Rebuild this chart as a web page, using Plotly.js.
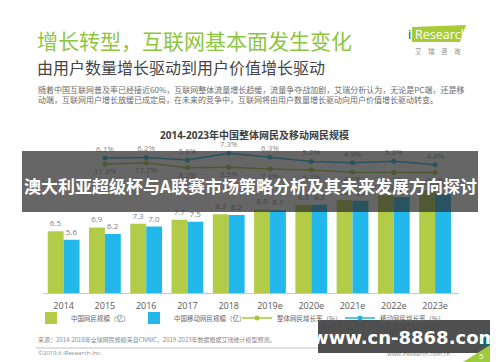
<!DOCTYPE html>
<html>
<head>
<meta charset="utf-8">
<script src="https://cdn.plot.ly/plotly-3.0.1.min.js"></script>
<style>
html,body{margin:0;padding:0;background:#fff;}
#chart{width:500px;height:362px;}
</style>
</head>
<body>
<div id="chart"></div>
<script>
// ---- data ----
var years = ['2014','2015','2016','2017','2018','2019e','2020e','2021e','2022e','2023e'];
var rateYears = ['2015','2016','2017','2018','2019e','2020e','2021e','2022e','2023e'];
var netUsers = [6.5, 6.9, 7.3, 7.7, 8.3, 8.8, 9.3, 9.8, 10.3, 10.8];
var mobileUsers = [5.6, 6.2, 7.0, 7.5, 8.2, 8.7, 9.3, 9.7, 10.1, 10.5];
var rateUpper = [6.1, 6.2, 5.6, 7.3, 6.3, 5.2, 4.9, 5.3, 4.4];
var rateLower = [11.3, 12.2, 8.2, 8.5, 7.1, 6.3, 4.5, 4.3, 4.2];
var seriesNames = ['中国网民规模（亿）', '中国移动网民规模（亿）', '整体网民增长率（%）', '移动网民增长率（%）'];

// ---- pixel -> paper helpers (plot area 43..459 x 122..293) ----
var L = 43, R = 459, T = 122, B = 293;
function px(x){ return (x - L) / (R - L); }
function py(y){ return (B - y) / (B - T); }

var FONT = 'Open Sans, Noto Sans CJK SC, sans-serif';
var CJK = 'Noto Sans CJK SC, sans-serif';
var GREEN = '#b3cc48';
var BLUE = '#22b8ec';

var traces = [
  {type:'bar', x:years, y:netUsers, name:seriesNames[0], marker:{color:GREEN},
   text:netUsers.map(function(v){return v.toFixed(1);}), textposition:'outside',
   textfont:{size:8, color:'#808080'}, cliponaxis:false},
  {type:'bar', x:years, y:mobileUsers, name:seriesNames[1], marker:{color:BLUE},
   text:mobileUsers.map(function(v){return v.toFixed(1);}), textposition:'outside',
   textfont:{size:8, color:'#808080'}, cliponaxis:false},
  {type:'scatter', mode:'lines+markers+text', x:rateYears, y:rateLower, yaxis:'y3',
   name:seriesNames[2], line:{color:'#a4c63c', width:1.5}, marker:{color:'#a4c63c', size:5},
   text:rateLower.map(function(v){return v.toFixed(1)+'%';}), textposition:'bottom center',
   textfont:{size:8, color:'#8a8a8a'}, cliponaxis:false},
  {type:'scatter', mode:'lines+markers+text', x:rateYears, y:rateUpper, yaxis:'y2',
   name:seriesNames[3], line:{color:'#1fb6d6', width:1.5}, marker:{color:'#1fb6d6', size:5},
   text:rateUpper.map(function(v){return v.toFixed(1)+'%';}), textposition:'top center',
   textfont:{size:8, color:'#8a8a8a'}, cliponaxis:false}
];

function rect(x0,y0,x1,y1,fill){
  return {type:'rect', xref:'paper', yref:'paper', x0:px(x0), x1:px(x1), y0:py(y1), y1:py(y0),
          fillcolor:fill, line:{width:0}, layer:'above'};
}
function poly(pts, fill){
  var d = pts.map(function(p,i){ return (i?'L':'M') + px(p[0]) + ',' + py(p[1]); }).join(' ') + ' Z';
  return {type:'path', xref:'paper', yref:'paper', path:d, fillcolor:fill, line:{width:0}, layer:'above'};
}
function ann(text, x, y, opt){
  opt = opt || {};
  return {text:text, xref:'paper', yref:'paper', x:px(x), y:py(y), showarrow:false,
          xanchor:opt.xa || 'left', yanchor:'middle',
          font:{family:opt.family || CJK, size:opt.size || 8, color:opt.color || '#666'}};
}

var layout = {
  width:500, height:362, autosize:false,
  margin:{l:L, r:500-R, t:T, b:362-B, pad:0},
  paper_bgcolor:'#ffffff', plot_bgcolor:'#ffffff',
  font:{family:FONT, size:9, color:'#595959'},
  barmode:'group', bargap:0.23, bargroupgap:0,
  showlegend:true,
  legend:{orientation:'h', x:px(31), y:py(318), xanchor:'left', yanchor:'middle',
          font:{family:CJK, size:6.5, color:'#666'}, bgcolor:'rgba(0,0,0,0)',
          entrywidth:58, entrywidthmode:'pixels', itemwidth:30, tracegroupgap:0},
  xaxis:{type:'category', showline:true, linecolor:'#c8c8c8', linewidth:1, ticks:'',
         showgrid:false, zeroline:false, tickfont:{size:9, color:'#595959'}, ticklabelstandoff:4},
  yaxis:{range:[0,18], visible:false, showgrid:false, zeroline:false},
  yaxis2:{range:[-27.65,15.1], overlaying:'y', visible:false, showgrid:false, zeroline:false},
  yaxis3:{range:[-96.2,46.3], overlaying:'y', visible:false, showgrid:false, zeroline:false},
  shapes:[
    // iResearch logo
    poly([[412,27],[466,25],[460,42],[412,42]], '#a6cc38'),
    // footer rule
    {type:'line', xref:'paper', yref:'paper', x0:px(36), x1:px(463), y0:py(348), y1:py(348),
     line:{color:'#b0b0b0', width:0.8}, layer:'above'},
    // overlay banner
    rect(22,151,478,212,'rgba(45,45,45,0.73)'),
    // watermark box
    rect(318,320,490,353,'rgba(72,72,72,0.96)'),
    poly([[478,346],[490,329],[490,346]], '#1c6474'),
    poly([[463,362],[490,362],[490,345]], '#9ccc3c')
  ],
  annotations:[
    ann('增长转型，互联网基本面发生变化', 35, 40, {size:21, color:'#8dc63f'}),
    ann('由用户数量增长驱动到用户价值增长驱动', 35, 67, {size:16, color:'#454545'}),
    ann('随着中国互联网普及率已经接近60%，互联网整体流量增长趋缓，流量争夺战加剧，艾瑞分析认为，无论是PC端，还是移', 36, 89, {size:8, color:'#6a6a6a'}),
    ann('动端，互联网用户增长放缓已成定局，在未来的竞争中，互联网将由用户数量增长驱动向用户价值增长驱动转变。', 36, 100, {size:8, color:'#6a6a6a'}),
    ann('<b>2014-2023年中国整体网民及移动网民规模</b>', 254, 135, {xa:'center', size:10, color:'#404040', family:FONT}),
    ann('i', 409, 34, {xa:'center', size:13, color:'#1e3a5f', family:'Open Sans, sans-serif'}),
    ann('Research', 413, 34, {size:12.5, color:'#ffffff', family:'Open Sans, sans-serif'}),
    ann('艾　瑞　咨　询', 438, 51, {xa:'center', size:6.5, color:'#8a8a8a'}),
    ann('<b>澳大利亚超级杯与A联赛市场策略分析及其未来发展方向探讨</b>', 250, 185, {xa:'center', size:17, color:'#ffffff'}),
    ann('来源：2014-2018年全球网民规模来自CNNIC，2019-2023年数据根据艾瑞统计模型预测。', 36, 339, {size:6, color:'#8a8a8a'}),
    ann('©2019.6 iResearch Inc.', 36, 353, {size:6, color:'#8a8a8a', family:FONT}),
    ann('www.iresearch.com.cn', 452, 354, {xa:'right', size:6, color:'#8a8a8a', family:FONT}),
    ann('<b>www.cn-8868.com</b>', 404, 337, {xa:'center', size:18, color:'#ffffff', family:'DejaVu Sans, sans-serif'}),
    ann('5', 482, 355, {xa:'center', size:8, color:'#ffffff', family:FONT})
  ]
};

Plotly.newPlot('chart', traces, layout, {staticPlot:true, displayModeBar:false});
</script>
</body>
</html>
